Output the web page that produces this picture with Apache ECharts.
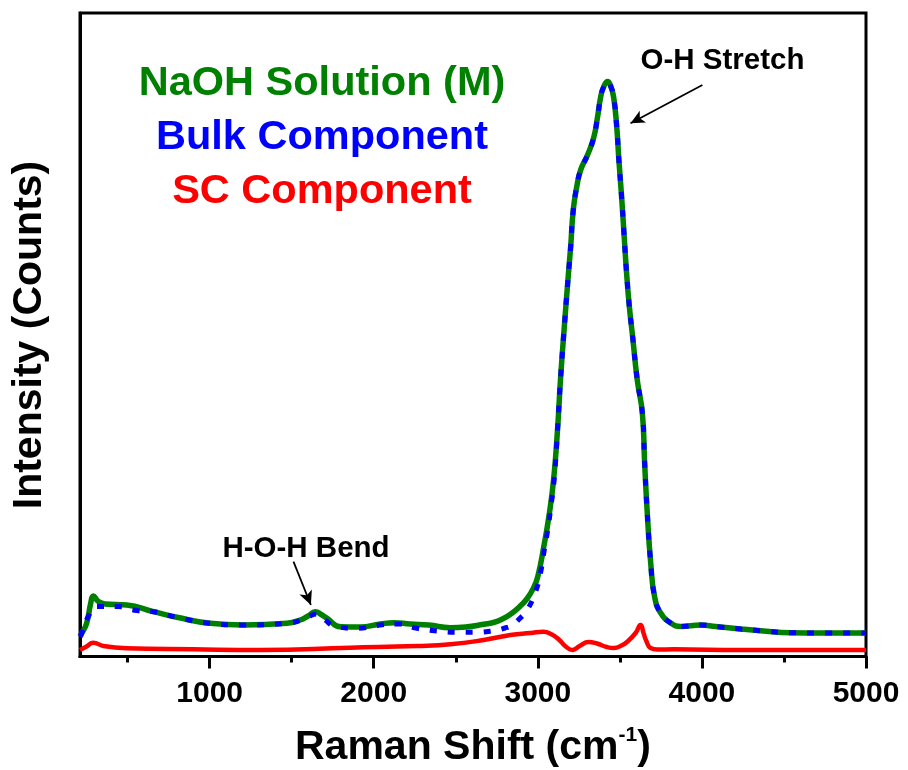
<!DOCTYPE html>
<html>
<head>
<meta charset="utf-8">
<script src="https://cdn.jsdelivr.net/npm/echarts@6/dist/echarts.min.js"></script>
<style>
html,body{margin:0;padding:0;background:#fff;}
#chart{width:908px;height:770px;}
</style>
</head>
<body>
<div id="chart"></div>
<script>
// Raman shift (cm-1) and intensity (arbitrary counts)
var greenX = [210,220,250,275,291,322,362,495,658,800,1003,1206,1471,1552,1600,1644,1680,1716,1796,1918,2040,2122,2223,2335,2467,2560,2670,2730,2790,2840,2890,2935,2975,3000,3036,3067,3096,3120,3138,3160,3185,3200,3216,3237,3261,3303,3340,3364,3383,3401,3425,3444,3462,3481,3494,3509,3525,3541,3558,3578,3606,3637,3651,3667,3688,3712,3749,3810,3871,3993,4084,4237,4359,4542,4725,5000];
var greenY = [20,23,33,53,60.5,55,52.5,51.5,44.8,39.2,33.2,31.5,33.2,36.5,40.5,44.8,42,38.2,29.8,29.5,32.5,33.8,32.5,31.5,28.8,29.5,32.2,34,38,43,50,58,69,80,109.5,139.5,176.5,226.5,276.5,326.5,379.5,409.5,446.5,469.5,486.5,501.5,518.5,539.5,559.5,569.5,575,570.5,559.5,529.5,496.5,463.5,423.5,383.5,349.5,319.5,276.5,243.5,193.5,143.5,93.5,59.5,43.5,33.5,30,31.5,30,27.5,25.8,23.8,23.5,23.5];

var blueX = [210,220,260,311,434,556,658,800,1003,1206,1471,1552,1600,1650,1700,1760,1898,2040,2152,2264,2386,2498,2609,2731,2800,2844,2890,2935,2986,3016,3036,3057,3080,3100,3120,3138,3160,3185,3200,3216,3237,3261,3303,3340,3364,3383,3401,3425,3444,3462,3481,3494,3509,3525,3541,3558,3578,3606,3637,3651,3667,3688,3712,3749,3810,3871,3993,4084,4237,4359,4542,4725,5000];
var blueY = [20,23,40,50,50,46,44.8,39.2,33.2,31.5,33.2,36,39.5,42.5,37,30.5,28.2,31.5,32.5,28.2,25.5,24.2,24.2,25.8,28.5,31.5,38,46.5,64.8,83.2,103.2,123.2,150,178,226.5,276.5,326.5,379.5,409.5,446.5,469.5,486.5,501.5,518.5,539.5,559.5,569.5,575,570.5,559.5,529.5,496.5,463.5,423.5,383.5,349.5,319.5,276.5,243.5,193.5,143.5,93.5,59.5,43.5,33.5,30,31.5,30,27.5,25.8,23.8,23.5,23.5];

var redX = [210,250,291,352,495,900,1308,1857,2264,2467,2670,2833,2955,3035,3080,3128,3170,3212,3255,3310,3360,3420,3464,3510,3545,3596,3626,3645,3660,3687,3730,3828,4237,5000];
var redY = [6.5,10,13.8,10.5,8.2,7.2,6.5,8.8,10.5,12.2,16.5,21.5,23.5,24.8,22.5,17,10,6.5,10.5,14.5,13,9.5,8.5,11,14.8,23.5,31.5,23,16,8.5,7,7.2,6.5,6.5];

var majorTicks = [1000,2000,3000,4000,5000];
var minorTicks = [500,1500,2500,3500,4500];
var xRange = [210, 5000];
var yRange = [0, 643.5];

// annotation arrows (start, tip) in data coordinates
var arrowOH = [[4003,571.5],[3565,533.2]];
var arrowHOH = [[1511,94.8],[1617,51.5]];

function pairs(xs, ys){ var out=[]; for (var i=0;i<xs.length;i++) out.push([xs[i], ys[i]]); return out; }

var FONT = '"Liberation Sans", Arial, Helvetica, sans-serif';
var chart = echarts.init(document.getElementById('chart'), null, {renderer:'canvas'});

var option = {
  animation: false,
  backgroundColor: '#fff',
  grid: {left: 80, right: 42, top: 13, bottom: 113.5, show: true, borderColor: '#000', borderWidth: 3, backgroundColor: 'transparent'},
  xAxis: [{
    type: 'value', min: xRange[0], max: xRange[1], position: 'bottom',
    axisLine: {show: true, onZero: false, lineStyle: {color: '#000', width: 3}},
    axisTick: {show: true, inside: false, length: 12, lineStyle: {color: '#000', width: 3}, customValues: majorTicks},
    axisLabel: {show: true, customValues: majorTicks, fontSize: 30, fontWeight: 'bold', fontFamily: FONT, color: '#000', margin: 22,
      formatter: function (v) { return String(Math.round(v)); }},
    splitLine: {show: false}
  },{
    type: 'value', min: xRange[0], max: xRange[1], position: 'bottom',
    axisLine: {show: false},
    axisTick: {show: true, inside: false, length: 6, lineStyle: {color: '#000', width: 3}, customValues: minorTicks},
    axisLabel: {show: false},
    splitLine: {show: false}
  }],
  yAxis: {
    type: 'value', min: yRange[0], max: yRange[1],
    axisLine: {show: true, onZero: false, lineStyle: {color: '#000', width: 3}},
    axisTick: {show: false}, axisLabel: {show: false}, splitLine: {show: false}
  },
  series: [{
    name: 'NaOH Solution (M)', type: 'line', data: pairs(greenX, greenY),
    showSymbol: false, smooth: 0.5,
    lineStyle: {color: '#008000', width: 5.5}, z: 2
  },{
    name: 'Bulk Component', type: 'line', data: pairs(blueX, blueY),
    showSymbol: false, smooth: 0.5,
    lineStyle: {color: '#0000ff', width: 5, type: [7, 11], cap: 'butt'}, z: 3
  },{
    name: 'SC Component', type: 'line', data: pairs(redX, redY),
    showSymbol: false, smooth: 0.5,
    lineStyle: {color: '#ff0000', width: 4.5}, z: 4,
    markLine: {
      silent: true, symbol: ['none', 'arrow'], symbolSize: [10, 14],
      lineStyle: {color: '#000', width: 1.8, type: 'solid'},
      label: {show: false},
      data: [
        [{coord: arrowOH[0]}, {coord: arrowOH[1]}],
        [{coord: arrowHOH[0]}, {coord: arrowHOH[1]}]
      ]
    }
  }],
  graphic: [
    {type: 'text', x: 322, y: 84, style: {text: 'NaOH Solution (M)', fill: '#008000', font: 'bold 41.5px ' + FONT, textAlign: 'center', textVerticalAlign: 'middle'}},
    {type: 'text', x: 322, y: 138, style: {text: 'Bulk Component', fill: '#0000ff', font: 'bold 41.5px ' + FONT, textAlign: 'center', textVerticalAlign: 'middle'}},
    {type: 'text', x: 322, y: 191.5, style: {text: 'SC Component', fill: '#ff0000', font: 'bold 41.5px ' + FONT, textAlign: 'center', textVerticalAlign: 'middle'}},
    {type: 'text', x: 722.5, y: 61, style: {text: 'O-H Stretch', fill: '#000', font: 'bold 29.5px ' + FONT, textAlign: 'center', textVerticalAlign: 'middle'}},
    {type: 'text', x: 306, y: 548.5, style: {text: 'H-O-H Bend', fill: '#000', font: 'bold 29.5px ' + FONT, textAlign: 'center', textVerticalAlign: 'middle'}},
    {type: 'text', x: 30, y: 335, rotation: Math.PI/2, style: {text: 'Intensity (Counts)', fill: '#000', font: 'bold 41px ' + FONT, textAlign: 'center', textVerticalAlign: 'middle'}},
    {type: 'text', x: 295, y: 747.5, style: {
      text: '{a|Raman Shift (cm}{s|-1}{a|)}', textAlign: 'left', textVerticalAlign: 'middle',
      rich: {
        a: {fontSize: 41, fontWeight: 'bold', fontFamily: FONT, fill: '#000', lineHeight: 46},
        s: {fontSize: 21, fontWeight: 'bold', fontFamily: FONT, fill: '#000', lineHeight: 21, verticalAlign: 'top'}
      }
    }}
  ]
};
chart.setOption(option);
</script>
</body>
</html>
